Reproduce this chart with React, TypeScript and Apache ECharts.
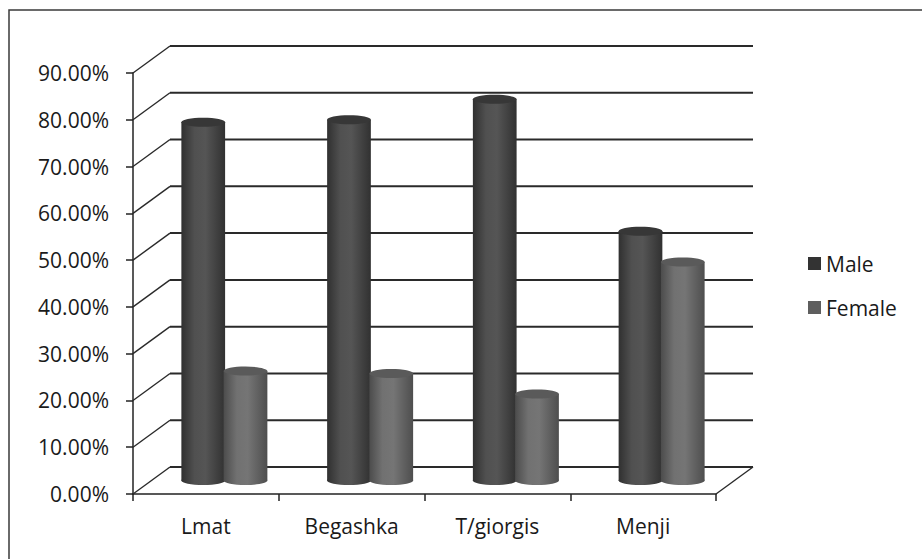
import React, { useEffect, useRef } from "react";
import * as echarts from "echarts";

// Share of respondents by sex in each kebele
const CATEGORIES = ["Lmat", "Begashka", "T/giorgis", "Menji"];
const MALE = [76.6, 77.1, 81.5, 53.3];
const FEMALE = [23.4, 22.9, 18.5, 46.7];
const Y_TICKS = [0, 10, 20, 30, 40, 50, 60, 70, 80, 90];

// pseudo-3D depth of the plot box (back wall offset from the front plane)
const DEPTH_X = 37;
const DEPTH_Y = -27;
const BAR_FRAC = 0.3;
const CAP_RY = 4.5;
const FONT = "'Open Sans', 'Noto Sans', sans-serif";

const hGrad = (stops: [number, string][]) => ({
  type: "linear",
  x: 0,
  y: 0,
  x2: 1,
  y2: 0,
  colorStops: stops.map(([offset, color]) => ({ offset, color })),
});

const MALE_FILL = hGrad([
  [0, "#303030"],
  [0.3, "#505050"],
  [0.55, "#555555"],
  [1, "#313131"],
]);
const FEMALE_FILL = hGrad([
  [0, "#4c4c4c"],
  [0.3, "#717171"],
  [0.55, "#757575"],
  [1, "#4e4e4e"],
]);

function cylinder(offsetFrac: number, fill: any, cap: string) {
  return (params: any, api: any) => {
    const idx = api.value(0);
    const val = api.value(1);
    const band = params.coordSys.width / CATEGORIES.length;
    const top = api.coord([idx, val]);
    const base = api.coord([idx, 0]);
    const cx = top[0] + offsetFrac * band + DEPTH_X / 2;
    const yTop = top[1] + DEPTH_Y / 2;
    const yBase = base[1] + DEPTH_Y / 2;
    const rx = (band * BAR_FRAC) / 2;
    return {
      type: "group",
      children: [
        { type: "ellipse", shape: { cx, cy: yBase, rx, ry: CAP_RY }, style: { fill } },
        {
          type: "rect",
          shape: { x: cx - rx, y: yTop, width: rx * 2, height: yBase - yTop },
          style: { fill },
        },
        { type: "ellipse", shape: { cx, cy: yTop, rx, ry: CAP_RY }, style: { fill: cap } },
      ],
    };
  };
}

function wallLines(params: any, api: any) {
  const v = api.value(1);
  const y = api.coord([0, v])[1];
  const left = params.coordSys.x;
  const right = left + params.coordSys.width;
  const lineStyle = { stroke: "#2a2a2a", lineWidth: 2 };
  const diagStyle = { stroke: "#2a2a2a", lineWidth: 1.4 };
  const children: any[] = [
    {
      type: "line",
      shape: { x1: left + DEPTH_X, y1: y + DEPTH_Y, x2: right + DEPTH_X, y2: y + DEPTH_Y },
      style: lineStyle,
    },
    {
      type: "line",
      shape: { x1: left, y1: y, x2: left + DEPTH_X, y2: y + DEPTH_Y },
      style: diagStyle,
    },
  ];
  if (v === 0) {
    children.push({
      type: "line",
      shape: { x1: right, y1: y, x2: right + DEPTH_X, y2: y + DEPTH_Y },
      style: diagStyle,
    });
  }
  return { type: "group", children };
}

export default function App() {
  const ref = useRef<HTMLDivElement>(null);

  useEffect(() => {
    if (!ref.current) return;
    const chart = echarts.init(ref.current, undefined, { renderer: "svg" });
    chart.setOption({
      animation: false,
      backgroundColor: "#ffffff",
      textStyle: { fontFamily: FONT },
      graphic: [
        {
          type: "rect",
          shape: { x: 9, y: 10, width: 1000, height: 600 },
          style: { fill: "none", stroke: "#3a3a3a", lineWidth: 1.5 },
          silent: true,
        },
      ],
      legend: {
        data: ["Male", "Female"],
        orient: "vertical",
        left: 803,
        top: 248,
        itemWidth: 13,
        itemHeight: 13,
        itemGap: 23,
        icon: "rect",
        textStyle: { fontFamily: FONT, fontSize: 21, color: "#1a1a1a" },
      },
      grid: { left: 133, right: 206, top: 73, bottom: 65 },
      xAxis: {
        type: "category",
        data: CATEGORIES,
        boundaryGap: true,
        axisLine: { show: true, lineStyle: { color: "#222", width: 1.5 } },
        axisTick: { show: true, length: 7, alignWithLabel: false, lineStyle: { color: "#222", width: 1.5 } },
        axisLabel: { fontFamily: FONT, fontSize: 21, color: "#1a1a1a", margin: 21 },
        splitLine: { show: false },
      },
      yAxis: {
        type: "value",
        min: 0,
        max: 90,
        interval: 10,
        axisLine: { show: true, lineStyle: { color: "#222", width: 1.5 } },
        axisTick: { show: true, length: 7, lineStyle: { color: "#222", width: 1.5 } },
        axisLabel: {
          fontFamily: FONT,
          fontSize: 21,
          color: "#1a1a1a",
          margin: 24,
          formatter: (v: number) => v.toFixed(2) + "%",
        },
        splitLine: { show: false },
      },
      series: [
        {
          type: "custom",
          name: "walls",
          renderItem: wallLines,
          data: Y_TICKS.map((v) => [0, v]),
          encode: { x: 0, y: 1 },
          clip: false,
          silent: true,
          z: 1,
        },
        {
          type: "custom",
          name: "Male",
          renderItem: cylinder(-0.145, MALE_FILL, "#373737"),
          data: MALE.map((v, i) => [i, v]),
          encode: { x: 0, y: 1 },
          itemStyle: { color: "#333333" },
          clip: false,
          z: 2,
        },
        {
          type: "custom",
          name: "Female",
          renderItem: cylinder(0.145, FEMALE_FILL, "#5a5a5a"),
          data: FEMALE.map((v, i) => [i, v]),
          encode: { x: 0, y: 1 },
          itemStyle: { color: "#5e5e5e" },
          clip: false,
          z: 3,
        },
      ],
    });
    return () => chart.dispose();
  }, []);

  return (
    <div
      ref={ref}
      style={{ position: "absolute", left: 0, top: 0, width: 922, height: 559 }}
    />
  );
}
